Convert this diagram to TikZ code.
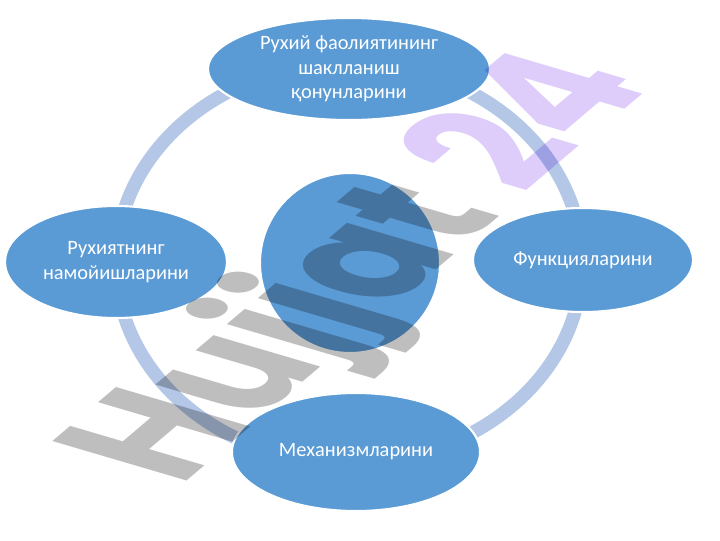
\documentclass[tikz,border=0pt]{standalone}
\usepackage{fontspec}
\setmainfont{Carlito}
\newfontfamily\wmfont{Poppins}
\usetikzlibrary{shapes.geometric}
\definecolor{nodeblue}{RGB}{91,155,213}
\definecolor{ringblue}{RGB}{180,199,231}
\definecolor{wmgray}{RGB}{190,190,190}
\definecolor{wmviolet}{RGB}{222,204,250}
\tikzset{
  bubble/.style={ellipse, fill=nodeblue, draw=white, line width=1.5pt, text=white,
    align=center, inner sep=0pt, font=\fontsize{14.5}{17.5}\selectfont},
  ringline/.style={draw=ringblue, line width=9.5pt},
  wmtext/.style={transform shape, anchor=base west, inner sep=0pt, text=wmgray,
    font=\wmfont\bfseries\fontsize{100}{100}\selectfont}
}
\begin{document}
\begin{tikzpicture}[x=0.025cm,y=0.025cm]
\useasboundingbox (0,0) rectangle (720,-540);
\fill[white] (0,0) rectangle (720,-540);
\coordinate (rc) at (349,-263);
\draw[ringline] (rc) ellipse [x radius=233, y radius=200];
\node[bubble, minimum width=7.05cm, minimum height=2.55cm] (top) at (349,-69)
  {\rule{0pt}{6pt}Рухий фаолиятининг\\шаклланиш\\қонунларини};
\node[bubble, minimum width=5.55cm, minimum height=2.8cm] (left) at (116,-262)
  {Рухиятнинг\\намойишларини};
\node[bubble, minimum width=5.5cm, minimum height=2.6cm] (right) at (583,-260)
  {Функцияларини};
\node[bubble, minimum width=6.2cm, minimum height=2.95cm] (bottom) at (356,-452)
  {Механизмларини};
\node[bubble, circle, minimum size=4.5cm] (center) at (350,-263) {};
\begin{scope}[shift={(180,-487)}, cm={0.745,0.632,-1.36,0.40,(0,0)}, blend mode=multiply]
  \node[wmtext] (wm) at (0,0) {Hujjat \textcolor{wmviolet}{24}};
\end{scope}
\end{tikzpicture}
\end{document}
